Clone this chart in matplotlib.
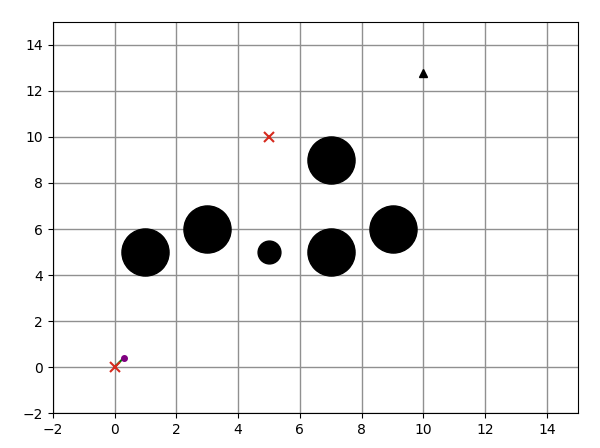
import matplotlib
matplotlib.use('Agg')
import matplotlib.pyplot as plt

# obstacles (big and small discs)
big_x = [1, 3, 7, 7, 9]
big_y = [5, 6, 5, 9, 6]
small_x = [5]
small_y = [5]

# start / goal markers
cross_x = [0, 5]
cross_y = [0, 10]
goal = (10, 12.8)

# robot heading segment
path_x = [0, 0.29]
path_y = [0, 0.39]

fig, ax = plt.subplots(figsize=(6, 4.48), dpi=100)
fig.subplots_adjust(left=0.088, right=0.963, top=0.951, bottom=0.078)

ax.scatter(big_x, big_y, s=1150, c='black', zorder=3)
ax.scatter(small_x, small_y, s=270, c='black', zorder=3)
ax.plot(path_x, path_y, color='green', lw=1.5, zorder=4)
ax.plot(path_x[-1], path_y[-1], 'o', color='purple', ms=4, zorder=5)
ax.plot(cross_x, cross_y, 'x', color='#d62a1e', ms=6.5, mew=1.5, ls='none', zorder=5)
ax.plot(*goal, '^', color='black', ms=6, zorder=5)

ax.set_xlim(-2, 15)
ax.set_ylim(-2, 15)
ax.set_xticks(range(-2, 15, 2))
ax.set_yticks(range(-2, 15, 2))
ax.grid(True, color='#909090', lw=1)
ax.set_axisbelow(True)

fig.savefig('out.png', dpi=100)
